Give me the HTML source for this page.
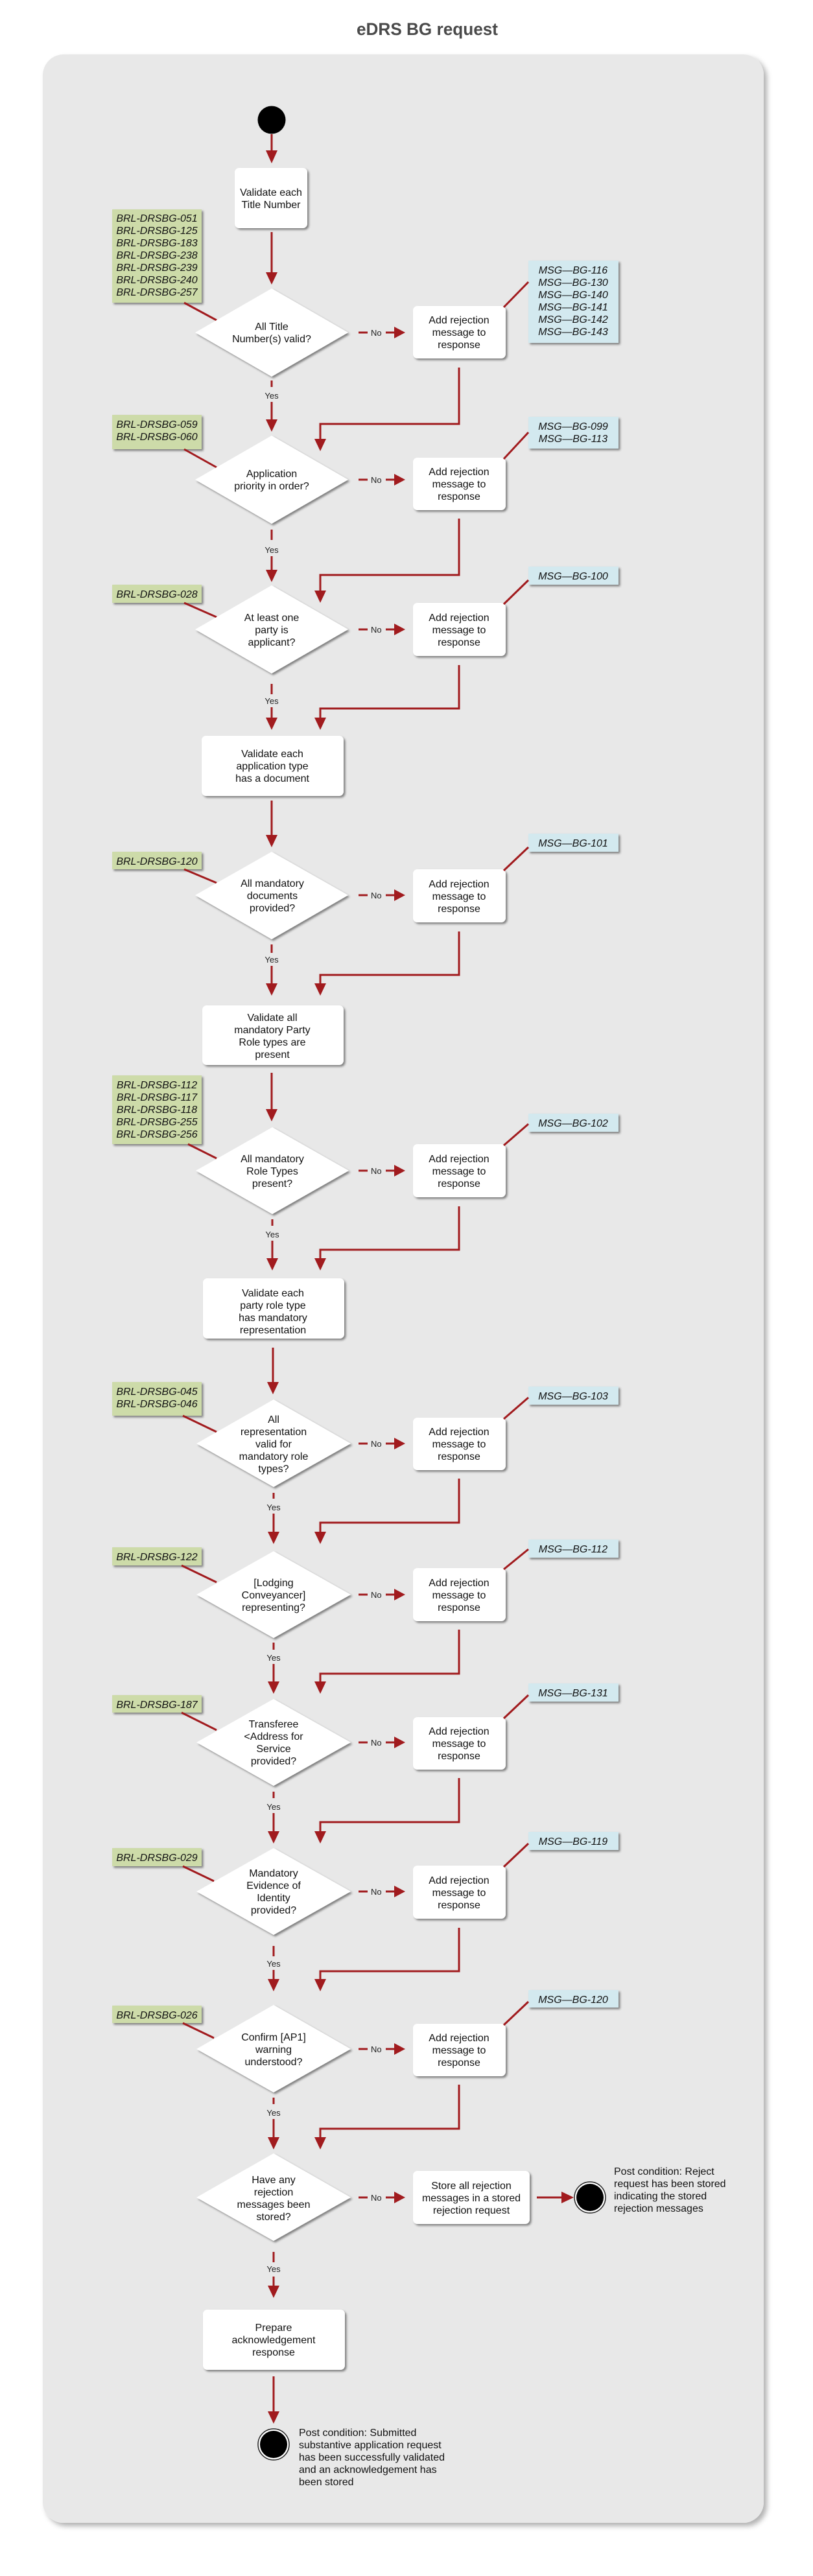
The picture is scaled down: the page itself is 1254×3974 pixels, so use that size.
<!DOCTYPE html>
<html><head><meta charset="utf-8"><style>
html,body{margin:0;padding:0;background:#fff;}
svg{display:block;}
text{font-family:"Liberation Sans",Arial,sans-serif;}
.t{font-size:16px;fill:#111;text-anchor:middle;}
.n{font-size:16px;font-style:italic;fill:#111;text-anchor:middle;}
.s{font-size:13px;fill:#222;}
.r{stroke:#a11b1e;stroke-width:3;fill:none;}
.h{fill:#a11b1e;}
.d{fill:#fff;filter:url(#sh);}
.g{fill:#cddba9;filter:url(#sh);}
.b{fill:#d3e9ef;filter:url(#sh);}
</style></head><body>
<svg width="1254" height="3974" viewBox="0 0 1254 3974" xmlns="http://www.w3.org/2000/svg">
<defs>
<filter id="sh" x="-10%" y="-10%" width="130%" height="130%"><feDropShadow dx="2.5" dy="2.5" stdDeviation="1.5" flood-color="#000" flood-opacity="0.45"/></filter>
<filter id="psh" x="-5%" y="-5%" width="110%" height="110%"><feDropShadow dx="5" dy="5" stdDeviation="4" flood-color="#000" flood-opacity="0.3"/></filter>
</defs>
<text x="659" y="54" text-anchor="middle" font-size="27" font-weight="bold" fill="#4a4a4a" textLength="218" lengthAdjust="spacingAndGlyphs">eDRS BG request</text>
<rect x="66" y="84" width="1112" height="3808" rx="32" fill="#e8e8e8" filter="url(#psh)"/>

<!-- start -->
<circle cx="419" cy="185" r="21.5" fill="#000"/>
<line class="r" x1="419" y1="207" x2="419" y2="233"/><polygon class="h" points="410,232 428,232 419,252"/>
<rect class="d" x="362" y="259" width="112" height="93" rx="7"/>
<text class="t" x="418" y="302">Validate each</text><text class="t" x="418" y="321">Title Number</text>
<line class="r" x1="419" y1="358" x2="419" y2="421"/><polygon class="h" points="410,420 428,420 419,439"/>

<!-- D1 -->
<rect class="g" x="173" y="323" width="138" height="144"/>
<text class="n" x="242" y="342">BRL-DRSBG-051</text><text class="n" x="242" y="361">BRL-DRSBG-125</text><text class="n" x="242" y="380">BRL-DRSBG-183</text><text class="n" x="242" y="399">BRL-DRSBG-238</text><text class="n" x="242" y="418">BRL-DRSBG-239</text><text class="n" x="242" y="437">BRL-DRSBG-240</text><text class="n" x="242" y="456">BRL-DRSBG-257</text>
<line class="r" x1="284" y1="467" x2="334" y2="494"/>
<polygon class="d" points="419,445 537,513 419,581 301,513"/>
<text class="t" x="419" y="509">All Title</text><text class="t" x="419" y="528">Number(s) valid?</text>
<line class="r" x1="553" y1="513" x2="567" y2="513"/><text class="s" x="572" y="518">No</text><line class="r" x1="595" y1="513" x2="610" y2="513"/><polygon class="h" points="608,504 625,513 608,522"/>
<rect class="d" x="637" y="472" width="143" height="81" rx="7"/>
<text class="t" x="708" y="499">Add rejection</text><text class="t" x="708" y="518">message to</text><text class="t" x="708" y="537">response</text>
<rect class="b" x="815" y="402" width="139" height="127"/>
<text class="n" x="884" y="422">MSG—BG-116</text><text class="n" x="884" y="441">MSG—BG-130</text><text class="n" x="884" y="460">MSG—BG-140</text><text class="n" x="884" y="479">MSG—BG-141</text><text class="n" x="884" y="498">MSG—BG-142</text><text class="n" x="884" y="517">MSG—BG-143</text>
<line class="r" x1="777" y1="474" x2="815" y2="435"/>
<line class="r" x1="419" y1="587" x2="419" y2="597"/><text class="s" x="419" y="615" text-anchor="middle">Yes</text><line class="r" x1="419" y1="620" x2="419" y2="648"/><polygon class="h" points="410,647 428,647 419,666"/>
<polyline class="r" points="708,567 708,654 494,654 494,678"/><polygon class="h" points="485,677 503,677 494,696"/>

<!-- D2 -->
<rect class="g" x="173" y="640" width="138" height="53"/>
<text class="n" x="242" y="660">BRL-DRSBG-059</text><text class="n" x="242" y="679">BRL-DRSBG-060</text>
<line class="r" x1="284" y1="693" x2="334" y2="721"/>
<polygon class="d" points="419,672 537,740 419,808 301,740"/>
<text class="t" x="419" y="736">Application</text><text class="t" x="419" y="755">priority in order?</text>
<line class="r" x1="553" y1="740" x2="567" y2="740"/><text class="s" x="572" y="745">No</text><line class="r" x1="595" y1="740" x2="610" y2="740"/><polygon class="h" points="608,731 625,740 608,749"/>
<rect class="d" x="637" y="706" width="143" height="81" rx="7"/>
<text class="t" x="708" y="733">Add rejection</text><text class="t" x="708" y="752">message to</text><text class="t" x="708" y="771">response</text>
<rect class="b" x="815" y="643" width="139" height="49"/>
<text class="n" x="884" y="663">MSG—BG-099</text><text class="n" x="884" y="682">MSG—BG-113</text>
<line class="r" x1="777" y1="708" x2="815" y2="667"/>
<line class="r" x1="419" y1="817" x2="419" y2="833"/><text class="s" x="419" y="853" text-anchor="middle">Yes</text><line class="r" x1="419" y1="858" x2="419" y2="880"/><polygon class="h" points="410,879 428,879 419,898"/>
<polyline class="r" points="708,800 708,887 494,887 494,912"/><polygon class="h" points="485,911 503,911 494,930"/>

<!-- D3 -->
<rect class="g" x="173" y="902" width="138" height="28"/>
<text class="n" x="242" y="922">BRL-DRSBG-028</text>
<line class="r" x1="284" y1="930" x2="334" y2="952"/>
<polygon class="d" points="419,903 537,971 419,1039 301,971"/>
<text class="t" x="419" y="958">At least one</text><text class="t" x="419" y="977">party is</text><text class="t" x="419" y="996">applicant?</text>
<line class="r" x1="553" y1="971" x2="567" y2="971"/><text class="s" x="572" y="976">No</text><line class="r" x1="595" y1="971" x2="610" y2="971"/><polygon class="h" points="608,962 625,971 608,980"/>
<rect class="d" x="637" y="930" width="143" height="82" rx="7"/>
<text class="t" x="708" y="958">Add rejection</text><text class="t" x="708" y="977">message to</text><text class="t" x="708" y="996">response</text>
<rect class="b" x="815" y="874" width="139" height="28"/>
<text class="n" x="884" y="894">MSG—BG-100</text>
<line class="r" x1="777" y1="932" x2="815" y2="895"/>
<line class="r" x1="419" y1="1055" x2="419" y2="1071"/><text class="s" x="419" y="1086" text-anchor="middle">Yes</text><line class="r" x1="419" y1="1091" x2="419" y2="1108"/><polygon class="h" points="410,1107 428,1107 419,1126"/>
<polyline class="r" points="708,1026 708,1093 494,1093 494,1108"/><polygon class="h" points="485,1107 503,1107 494,1126"/>

<rect class="d" x="311" y="1135" width="219" height="93" rx="7"/>
<text class="t" x="420" y="1168">Validate each</text><text class="t" x="420" y="1187">application type</text><text class="t" x="420" y="1206">has a document</text>
<line class="r" x1="419" y1="1235" x2="419" y2="1289"/><polygon class="h" points="410,1288 428,1288 419,1307"/>

<!-- D4 -->
<rect class="g" x="173" y="1314" width="138" height="27"/>
<text class="n" x="242" y="1334">BRL-DRSBG-120</text>
<line class="r" x1="284" y1="1341" x2="334" y2="1362"/>
<polygon class="d" points="419,1314 537,1381 419,1449 301,1381"/>
<text class="t" x="420" y="1368">All mandatory</text><text class="t" x="420" y="1387">documents</text><text class="t" x="420" y="1406">provided?</text>
<line class="r" x1="553" y1="1381" x2="567" y2="1381"/><text class="s" x="572" y="1386">No</text><line class="r" x1="595" y1="1381" x2="610" y2="1381"/><polygon class="h" points="608,1372 625,1381 608,1390"/>
<rect class="d" x="637" y="1341" width="143" height="82" rx="7"/>
<text class="t" x="708" y="1369">Add rejection</text><text class="t" x="708" y="1388">message to</text><text class="t" x="708" y="1407">response</text>
<rect class="b" x="815" y="1286" width="139" height="28"/>
<text class="n" x="884" y="1306">MSG—BG-101</text>
<line class="r" x1="777" y1="1343" x2="815" y2="1307"/>
<line class="r" x1="419" y1="1457" x2="419" y2="1470"/><text class="s" x="419" y="1485" text-anchor="middle">Yes</text><line class="r" x1="419" y1="1490" x2="419" y2="1518"/><polygon class="h" points="410,1517 428,1517 419,1536"/>
<polyline class="r" points="708,1437 708,1504 494,1504 494,1518"/><polygon class="h" points="485,1517 503,1517 494,1536"/>

<rect class="d" x="312" y="1551" width="218" height="92" rx="7"/>
<text class="t" x="420" y="1575">Validate all</text><text class="t" x="420" y="1594">mandatory Party</text><text class="t" x="420" y="1613">Role types are</text><text class="t" x="420" y="1632">present</text>
<line class="r" x1="419" y1="1655" x2="419" y2="1712"/><polygon class="h" points="410,1711 428,1711 419,1730"/>

<!-- D5 -->
<rect class="g" x="173" y="1659" width="138" height="106"/>
<text class="n" x="242" y="1679">BRL-DRSBG-112</text><text class="n" x="242" y="1698">BRL-DRSBG-117</text><text class="n" x="242" y="1717">BRL-DRSBG-118</text><text class="n" x="242" y="1736">BRL-DRSBG-255</text><text class="n" x="242" y="1755">BRL-DRSBG-256</text>
<line class="r" x1="290" y1="1765" x2="334" y2="1787"/>
<polygon class="d" points="420,1739 538,1806 420,1873 302,1806"/>
<text class="t" x="420" y="1793">All mandatory</text><text class="t" x="420" y="1812">Role Types</text><text class="t" x="420" y="1831">present?</text>
<line class="r" x1="553" y1="1806" x2="567" y2="1806"/><text class="s" x="572" y="1811">No</text><line class="r" x1="595" y1="1806" x2="610" y2="1806"/><polygon class="h" points="608,1797 625,1806 608,1815"/>
<rect class="d" x="637" y="1765" width="143" height="82" rx="7"/>
<text class="t" x="708" y="1793">Add rejection</text><text class="t" x="708" y="1812">message to</text><text class="t" x="708" y="1831">response</text>
<rect class="b" x="815" y="1718" width="139" height="28"/>
<text class="n" x="884" y="1738">MSG—BG-102</text>
<line class="r" x1="777" y1="1767" x2="815" y2="1734"/>
<line class="r" x1="420" y1="1881" x2="420" y2="1891"/><text class="s" x="420" y="1909" text-anchor="middle">Yes</text><line class="r" x1="420" y1="1914" x2="420" y2="1942"/><polygon class="h" points="411,1941 429,1941 420,1960"/>
<polyline class="r" points="708,1861 708,1928 494,1928 494,1942"/><polygon class="h" points="485,1941 503,1941 494,1960"/>

<rect class="d" x="313" y="1972" width="218" height="93" rx="7"/>
<text class="t" x="421" y="2000">Validate each</text><text class="t" x="421" y="2019">party role type</text><text class="t" x="421" y="2038">has mandatory</text><text class="t" x="421" y="2057">representation</text>
<line class="r" x1="421" y1="2079" x2="421" y2="2133"/><polygon class="h" points="412,2132 430,2132 421,2151"/>

<!-- D6 -->
<rect class="g" x="173" y="2132" width="138" height="52"/>
<text class="n" x="242" y="2152">BRL-DRSBG-045</text><text class="n" x="242" y="2171">BRL-DRSBG-046</text>
<line class="r" x1="282" y1="2184" x2="334" y2="2209"/>
<polygon class="d" points="422,2159 541,2227 422,2294 303,2227"/>
<text class="t" x="422" y="2195">All</text><text class="t" x="422" y="2214">representation</text><text class="t" x="422" y="2233">valid for</text><text class="t" x="422" y="2252">mandatory role</text><text class="t" x="422" y="2271">types?</text>
<line class="r" x1="553" y1="2227" x2="567" y2="2227"/><text class="s" x="572" y="2232">No</text><line class="r" x1="595" y1="2227" x2="610" y2="2227"/><polygon class="h" points="608,2218 625,2227 608,2236"/>
<rect class="d" x="637" y="2187" width="143" height="81" rx="7"/>
<text class="t" x="708" y="2214">Add rejection</text><text class="t" x="708" y="2233">message to</text><text class="t" x="708" y="2252">response</text>
<rect class="b" x="815" y="2139" width="139" height="28"/>
<text class="n" x="884" y="2159">MSG—BG-103</text>
<line class="r" x1="777" y1="2189" x2="815" y2="2156"/>
<line class="r" x1="422" y1="2303" x2="422" y2="2312"/><text class="s" x="422" y="2330" text-anchor="middle">Yes</text><line class="r" x1="422" y1="2335" x2="422" y2="2364"/><polygon class="h" points="413,2363 431,2363 422,2382"/>
<polyline class="r" points="708,2281 708,2349 494,2349 494,2364"/><polygon class="h" points="485,2363 503,2363 494,2382"/>

<!-- D7 -->
<rect class="g" x="173" y="2387" width="138" height="28"/>
<text class="n" x="242" y="2407">BRL-DRSBG-122</text>
<line class="r" x1="280" y1="2415" x2="334" y2="2441"/>
<polygon class="d" points="422,2393 541,2460 422,2527 303,2460"/>
<text class="t" x="422" y="2447">[Lodging</text><text class="t" x="422" y="2466">Conveyancer]</text><text class="t" x="422" y="2485">representing?</text>
<line class="r" x1="553" y1="2460" x2="567" y2="2460"/><text class="s" x="572" y="2465">No</text><line class="r" x1="595" y1="2460" x2="610" y2="2460"/><polygon class="h" points="608,2451 625,2460 608,2469"/>
<rect class="d" x="637" y="2419" width="143" height="82" rx="7"/>
<text class="t" x="708" y="2447">Add rejection</text><text class="t" x="708" y="2466">message to</text><text class="t" x="708" y="2485">response</text>
<rect class="b" x="815" y="2375" width="139" height="28"/>
<text class="n" x="884" y="2395">MSG—BG-112</text>
<line class="r" x1="777" y1="2421" x2="815" y2="2390"/>
<line class="r" x1="422" y1="2534" x2="422" y2="2545"/><text class="s" x="422" y="2562" text-anchor="middle">Yes</text><line class="r" x1="422" y1="2567" x2="422" y2="2595"/><polygon class="h" points="413,2594 431,2594 422,2613"/>
<polyline class="r" points="708,2514 708,2582 494,2582 494,2595"/><polygon class="h" points="485,2594 503,2594 494,2613"/>

<!-- D8 -->
<rect class="g" x="173" y="2615" width="138" height="27"/>
<text class="n" x="242" y="2635">BRL-DRSBG-187</text>
<line class="r" x1="280" y1="2642" x2="334" y2="2669"/>
<polygon class="d" points="422,2621 541,2688 422,2755 303,2688"/>
<text class="t" x="422" y="2665">Transferee</text><text class="t" x="422" y="2684">&lt;Address for</text><text class="t" x="422" y="2703">Service</text><text class="t" x="422" y="2722">provided?</text>
<line class="r" x1="553" y1="2688" x2="567" y2="2688"/><text class="s" x="572" y="2693">No</text><line class="r" x1="595" y1="2688" x2="610" y2="2688"/><polygon class="h" points="608,2679 625,2688 608,2697"/>
<rect class="d" x="637" y="2649" width="143" height="81" rx="7"/>
<text class="t" x="708" y="2676">Add rejection</text><text class="t" x="708" y="2695">message to</text><text class="t" x="708" y="2714">response</text>
<rect class="b" x="815" y="2597" width="139" height="28"/>
<text class="n" x="884" y="2617">MSG—BG-131</text>
<line class="r" x1="777" y1="2651" x2="815" y2="2615"/>
<line class="r" x1="422" y1="2764" x2="422" y2="2774"/><text class="s" x="422" y="2792" text-anchor="middle">Yes</text><line class="r" x1="422" y1="2797" x2="422" y2="2826"/><polygon class="h" points="413,2825 431,2825 422,2844"/>
<polyline class="r" points="708,2743 708,2811 494,2811 494,2826"/><polygon class="h" points="485,2825 503,2825 494,2844"/>

<!-- D9 -->
<rect class="g" x="173" y="2851" width="138" height="28"/>
<text class="n" x="242" y="2871">BRL-DRSBG-029</text>
<line class="r" x1="282" y1="2879" x2="330" y2="2902"/>
<polygon class="d" points="422,2851 541,2918 422,2985 303,2918"/>
<text class="t" x="422" y="2895">Mandatory</text><text class="t" x="422" y="2914">Evidence of</text><text class="t" x="422" y="2933">Identity</text><text class="t" x="422" y="2952">provided?</text>
<line class="r" x1="553" y1="2918" x2="567" y2="2918"/><text class="s" x="572" y="2923">No</text><line class="r" x1="595" y1="2918" x2="610" y2="2918"/><polygon class="h" points="608,2909 625,2918 608,2927"/>
<rect class="d" x="637" y="2878" width="143" height="82" rx="7"/>
<text class="t" x="708" y="2906">Add rejection</text><text class="t" x="708" y="2925">message to</text><text class="t" x="708" y="2944">response</text>
<rect class="b" x="815" y="2826" width="139" height="28"/>
<text class="n" x="884" y="2846">MSG—BG-119</text>
<line class="r" x1="777" y1="2880" x2="815" y2="2844"/>
<line class="r" x1="422" y1="3002" x2="422" y2="3018"/><text class="s" x="422" y="3034" text-anchor="middle">Yes</text><line class="r" x1="422" y1="3039" x2="422" y2="3054"/><polygon class="h" points="413,3053 431,3053 422,3072"/>
<polyline class="r" points="708,2974 708,3041 494,3041 494,3054"/><polygon class="h" points="485,3053 503,3053 494,3072"/>

<!-- D10 -->
<rect class="g" x="173" y="3094" width="138" height="27"/>
<text class="n" x="242" y="3114">BRL-DRSBG-026</text>
<line class="r" x1="282" y1="3121" x2="330" y2="3144"/>
<polygon class="d" points="422,3093 541,3161 422,3228 303,3161"/>
<text class="t" x="422" y="3148">Confirm [AP1]</text><text class="t" x="422" y="3167">warning</text><text class="t" x="422" y="3186">understood?</text>
<line class="r" x1="553" y1="3161" x2="567" y2="3161"/><text class="s" x="572" y="3166">No</text><line class="r" x1="595" y1="3161" x2="610" y2="3161"/><polygon class="h" points="608,3152 625,3161 608,3170"/>
<rect class="d" x="637" y="3122" width="143" height="81" rx="7"/>
<text class="t" x="708" y="3149">Add rejection</text><text class="t" x="708" y="3168">message to</text><text class="t" x="708" y="3187">response</text>
<rect class="b" x="815" y="3070" width="139" height="27"/>
<text class="n" x="884" y="3090">MSG—BG-120</text>
<line class="r" x1="777" y1="3124" x2="815" y2="3088"/>
<line class="r" x1="422" y1="3236" x2="422" y2="3246"/><text class="s" x="422" y="3264" text-anchor="middle">Yes</text><line class="r" x1="422" y1="3269" x2="422" y2="3298"/><polygon class="h" points="413,3297 431,3297 422,3316"/>
<polyline class="r" points="708,3216 708,3284 494,3284 494,3298"/><polygon class="h" points="485,3297 503,3297 494,3316"/>

<!-- D11 -->
<polygon class="d" points="422,3322 541,3390 422,3457 303,3390"/>
<text class="t" x="422" y="3368">Have any</text><text class="t" x="422" y="3387">rejection</text><text class="t" x="422" y="3406">messages been</text><text class="t" x="422" y="3425">stored?</text>
<line class="r" x1="553" y1="3390" x2="567" y2="3390"/><text class="s" x="572" y="3395">No</text><line class="r" x1="595" y1="3390" x2="610" y2="3390"/><polygon class="h" points="608,3381 625,3390 608,3399"/>
<rect class="d" x="637" y="3349" width="180" height="82" rx="7"/>
<text class="t" x="727" y="3377">Store all rejection</text><text class="t" x="727" y="3396">messages in a stored</text><text class="t" x="727" y="3415">rejection request</text>
<line class="r" x1="828" y1="3390" x2="868" y2="3390"/><polygon class="h" points="866,3381 885,3390 866,3399"/>
<circle cx="910" cy="3390" r="24" fill="#fff" stroke="#222" stroke-width="1.5"/><circle cx="910" cy="3390" r="21" fill="#000"/>
<text x="947" y="3355" font-size="16" fill="#111">Post condition: Reject</text>
<text x="947" y="3374" font-size="16" fill="#111">request has been stored</text>
<text x="947" y="3393" font-size="16" fill="#111">indicating the stored</text>
<text x="947" y="3412" font-size="16" fill="#111">rejection messages</text>
<line class="r" x1="422" y1="3474" x2="422" y2="3490"/><text class="s" x="422" y="3505" text-anchor="middle">Yes</text><line class="r" x1="422" y1="3512" x2="422" y2="3527"/><polygon class="h" points="413,3526 431,3526 422,3545"/>

<rect class="d" x="313" y="3563" width="219" height="93" rx="7"/>
<text class="t" x="422" y="3596">Prepare</text><text class="t" x="422" y="3615">acknowledgement</text><text class="t" x="422" y="3634">response</text>
<line class="r" x1="422" y1="3666" x2="422" y2="3721"/><polygon class="h" points="413,3720 431,3720 422,3739"/>
<circle cx="422" cy="3771" r="24" fill="#fff" stroke="#222" stroke-width="1.5"/><circle cx="422" cy="3771" r="21" fill="#000"/>
<text x="461" y="3758" font-size="16" fill="#111">Post condition: Submitted</text>
<text x="461" y="3777" font-size="16" fill="#111">substantive application request</text>
<text x="461" y="3796" font-size="16" fill="#111">has been successfully validated</text>
<text x="461" y="3815" font-size="16" fill="#111">and an acknowledgement has</text>
<text x="461" y="3834" font-size="16" fill="#111">been stored</text>
</svg>
</body></html>
